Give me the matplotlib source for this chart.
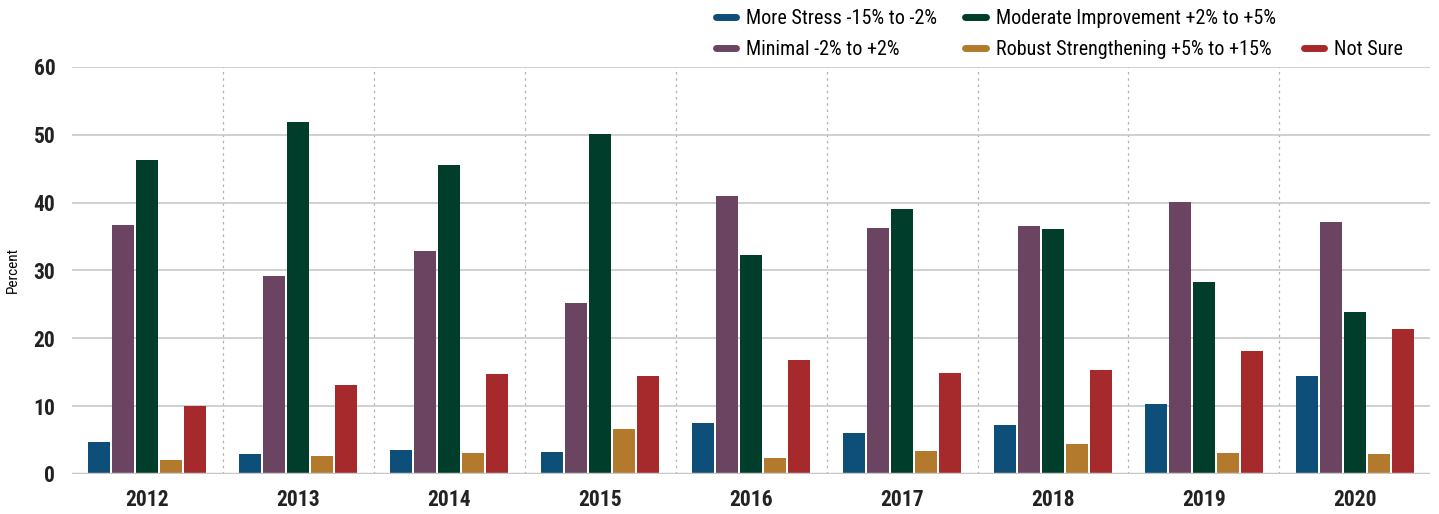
import matplotlib.pyplot as plt
import numpy as np
from matplotlib.lines import Line2D

years = ["2012", "2013", "2014", "2015", "2016", "2017", "2018", "2019", "2020"]
more_stress = [4.7, 2.9, 3.5, 3.2, 7.5, 6.0, 7.2, 10.3, 14.5]
minimal = [36.7, 29.2, 32.9, 25.2, 40.9, 36.3, 36.6, 40.1, 37.2]
moderate = [46.3, 51.8, 45.6, 50.1, 32.2, 39.1, 36.1, 28.3, 23.9]
robust = [2.1, 2.7, 3.1, 6.6, 2.4, 3.4, 4.4, 3.1, 2.9]
not_sure = [10.0, 13.1, 14.7, 14.5, 16.8, 14.9, 15.3, 18.1, 21.4]

labels = [
    "More Stress -15% to -2%",
    "Minimal -2% to +2%",
    "Moderate Improvement +2% to +5%",
    "Robust Strengthening +5% to +15%",
    "Not Sure",
]
colors = ["#0d4f78", "#6b4462", "#003d2b", "#b37a2e", "#a6292b"]

plt.rcParams["font.family"] = ["Roboto Condensed", "Liberation Sans Narrow", "Roboto", "DejaVu Sans"]

fig = plt.figure(figsize=(14.39, 5.14), dpi=100)
ax = fig.add_axes([0.05, 0.078, 0.944, 0.792])

series = [more_stress, minimal, moderate, robust, not_sure]
x = np.arange(len(years))
step = 0.159
width = 0.146
for i, (vals, c) in enumerate(zip(series, colors)):
    ax.bar(x + (i - 2) * step, vals, width=width, color=c, zorder=3)

ax.set_xlim(-0.5, len(years) - 0.5)
ax.set_ylim(0, 60)
ax.set_yticks(range(0, 61, 10))
ax.set_xticks(x)
ax.set_xticklabels(years)
for t in ax.get_xticklabels() + ax.get_yticklabels():
    t.set_fontweight("bold")
    t.set_fontsize(15.5)
    t.set_color("#222222")
ax.tick_params(length=0)
ax.tick_params(axis="x", pad=11)
ax.tick_params(axis="y", pad=12)

for s in ax.spines.values():
    s.set_visible(False)
ax.yaxis.grid(True, color="#c8c8c8", linewidth=1.2, zorder=0)
ax.axhline(0, color="#c8c8c8", linewidth=2.5, zorder=4)
for b in x[:-1] + 0.5:
    ax.axvline(b, color="#b0b0b0", linewidth=0.9, linestyle=(0, (2, 3)), zorder=1)

ax.set_ylabel("Percent", fontsize=11, labelpad=10)

handles = []
for c in colors:
    handles.append(Line2D([0], [0], color=c, linewidth=5, solid_capstyle="round"))
blank = Line2D([0], [0], color="none")
h = handles[:4] + [blank, handles[4]]
l = labels[:4] + ["", labels[4]]
fig.legend(
    h, l, ncol=3, loc="upper left", bbox_to_anchor=(0.485, 1.018),
    frameon=False, fontsize=14.5, handlelength=1.0, handletextpad=0.5,
    columnspacing=1.4, labelspacing=0.6,
)

fig.savefig("out.png", dpi=100)
